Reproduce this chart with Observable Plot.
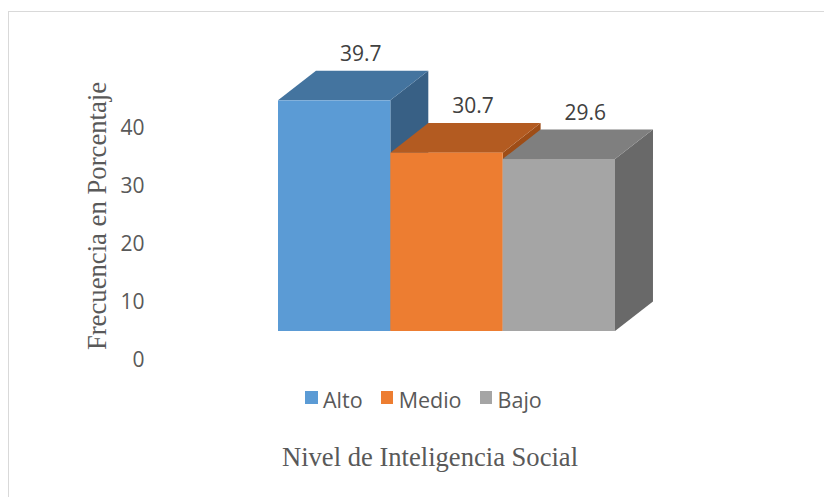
<!DOCTYPE html>
<html>
<head>
<meta charset="utf-8">
<script src="https://cdn.jsdelivr.net/npm/d3@7"></script>
<script src="https://cdn.jsdelivr.net/npm/@observablehq/plot@0.6"></script>
<style>
  html, body { margin: 0; padding: 0; background: #fff; }
  #wrap { position: relative; width: 824px; height: 497px; overflow: hidden; }
  #frame { position: absolute; left: 7.5px; top: 10.5px; width: 900px; height: 600px;
           border: 1.5px solid #d9d9d9; box-sizing: border-box; }
  .ytitle { position: absolute; left: 97px; top: 216px; transform: translate(-50%, -50%) rotate(-90deg);
            font-family: "Liberation Serif", "Times New Roman", serif; font-size: 26.7px; color: #595959;
            white-space: nowrap; line-height: 1; }
  .xtitle { position: absolute; left: 430px; top: 457px; transform: translate(-50%, -50%);
            font-family: "Liberation Serif", "Times New Roman", serif; font-size: 26.6px; color: #595959;
            white-space: nowrap; line-height: 1; }
  .legend { position: absolute; left: 305px; top: 385px; display: flex; align-items: center;
            font-family: "Open Sans", sans-serif; font-size: 21.5px; color: #595959; white-space: nowrap; }
  .legend .item { display: flex; align-items: center; margin-right: 18px; }
  .legend .sw { width: 12.5px; height: 12.5px; margin-right: 5.5px; position: relative; top: -2px; }
  svg { position: absolute; left: 0; top: 0; }
</style>
</head>
<body>
<div id="wrap">
  <div id="frame"></div>
  <div id="chart"></div>
  <div class="ytitle" id="ytitle"></div>
  <div class="xtitle" id="xtitle"></div>
  <div class="legend" id="legend"></div>
</div>
<script>
const categories = ["Alto", "Medio", "Bajo"];
const values = [39.7, 30.7, 29.6];
const yTicks = [0, 10, 20, 30, 40];
const yTitle = "Frecuencia en Porcentaje";
const xTitle = "Nivel de Inteligencia Social";

const frontColors = ["#5B9BD5", "#ED7D31", "#A5A5A5"];
const topColors = ["#44749F", "#B35B21", "#7F7F7F"];
const sideColors = ["#386085", "#9E4D17", "#696969"];

// 3D depth expressed in scale units
const depthX = 0.338;
const depthY = 5.08;

const bars = categories.map((c, i) => ({ i, c, v: values[i] }));

const sideData = bars.flatMap(b => [
  { k: b.c, x: b.i + 1, y1: 0, y2: b.v, fill: sideColors[b.i] },
  { k: b.c, x: b.i + 1 + depthX, y1: depthY, y2: b.v + depthY, fill: sideColors[b.i] }
]);
const topData = bars.flatMap(b => [
  { k: b.c, y: b.v, x1: b.i, x2: b.i + 1, fill: topColors[b.i] },
  { k: b.c, y: b.v + depthY, x1: b.i + depthX, x2: b.i + 1 + depthX, fill: topColors[b.i] }
]);

const chart = Plot.plot({
  width: 824,
  height: 497,
  marginLeft: 278,
  marginRight: 209,
  marginTop: 40,
  marginBottom: 166,
  x: { domain: [0, 3], range: [278, 615], axis: null },
  y: { domain: [0, 50], range: [331, 40.5], axis: null },
  color: { type: "identity" },
  style: { background: "transparent", overflow: "visible" },
  marks: [
    Plot.areaY(sideData, { x: "x", y1: "y1", y2: "y2", z: "k", fill: "fill" }),
    Plot.areaX(topData, { y: "y", x1: "x1", x2: "x2", z: "k", fill: "fill" }),
    Plot.rectY(bars, { x1: d => d.i, x2: d => d.i + 1, y1: 0, y2: "v", fill: d => frontColors[d.i] }),
    Plot.text(bars, {
      x: d => d.i + 0.5 + depthX / 2, y: d => d.v + depthY, text: d => d.v.toFixed(1),
      dx: 7, dy: -17, fill: "#404040", fontSize: 21, fontFamily: "Open Sans, sans-serif"
    }),
    Plot.text(yTicks, {
      y: d => d, text: d => String(d), frameAnchor: "left", dx: -134, dy: 29,
      textAnchor: "end", fill: "#595959", fontSize: 21, fontFamily: "Open Sans, sans-serif"
    })
  ]
});
document.getElementById("chart").appendChild(chart);

document.getElementById("ytitle").textContent = yTitle;
document.getElementById("xtitle").textContent = xTitle;
const legend = document.getElementById("legend");
categories.forEach((c, i) => {
  const item = document.createElement("div");
  item.className = "item";
  const sw = document.createElement("span");
  sw.className = "sw";
  sw.style.background = frontColors[i];
  const t = document.createElement("span");
  t.textContent = c;
  item.appendChild(sw);
  item.appendChild(t);
  legend.appendChild(item);
});
</script>
</body>
</html>
